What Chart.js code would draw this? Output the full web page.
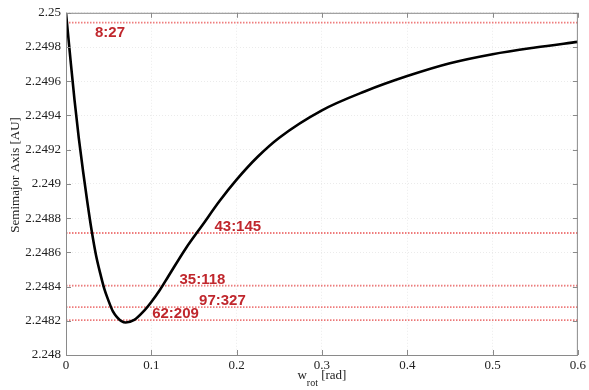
<!DOCTYPE html>
<html>
<head>
<meta charset="utf-8">
<script src="https://cdn.jsdelivr.net/npm/chart.js@4.4.1/dist/chart.umd.min.js"></script>
<style>
  html, body { margin: 0; padding: 0; background: #fff; }
  #wrap { width: 589px; height: 390px; position: relative; }
</style>
</head>
<body>
<div id="wrap"><canvas id="smaChart"></canvas></div>
<script>
// rotation angle w_rot [rad]
const wRot = [0, 0.005, 0.01, 0.015, 0.02, 0.025, 0.03, 0.035, 0.04, 0.045, 0.05, 0.055, 0.06, 0.065, 0.07,
              0.08, 0.09, 0.1, 0.11, 0.12, 0.14, 0.16, 0.18, 0.2, 0.225, 0.25, 0.3, 0.35, 0.4,
              0.45, 0.5, 0.55, 0.6];
// semimajor axis [AU]
const semiMajor = [2.25, 2.24974, 2.24949, 2.249268, 2.249074, 2.248894, 2.248729, 2.248588, 2.24848,
                   2.248385, 2.248315, 2.248255, 2.24822, 2.248198, 2.24819,
                   2.248205, 2.24825, 2.24831, 2.24838, 2.24846, 2.24862, 2.24876, 2.24890, 2.249025,
                   2.24916, 2.24927, 2.24943, 2.24954, 2.24963,
                   2.249705, 2.249758, 2.249797, 2.24983];

// resonance levels
const resNames = ['8:27', '43:145', '35:118', '97:327', '62:209'];
const resLevels = [2.249942, 2.248713, 2.248406, 2.248280, 2.248204];
// where each label sits (x in rad, and above/below the line)
const resLabelX = [0.034, 0.174, 0.133, 0.156, 0.101];
const resLabelSide = ['below', 'above', 'above', 'above', 'above'];

const xTicks = [0, 0.1, 0.2, 0.3, 0.4, 0.5, 0.6];
const yMin = 2.248, yMax = 2.25, yStep = 0.0002;

const RED = '#c0272d';
const AXIS = '#8a8a8a';
const SERIF = '"Liberation Serif", "DejaVu Serif", serif';

const datasets = [{
    label: 'a',
    data: wRot.map((x, i) => ({ x: x, y: semiMajor[i] })),
    borderColor: '#000',
    borderWidth: 2.6,
    pointRadius: 0,
    cubicInterpolationMode: 'monotone',
    order: 0
}];
resLevels.forEach((v, i) => {
    datasets.push({
        label: resNames[i],
        data: [{ x: xTicks[0], y: v }, { x: xTicks[xTicks.length - 1], y: v }],
        borderColor: 'rgba(232, 80, 80, 0.75)',
        borderWidth: 1.8,
        borderDash: [1.5, 1.5],
        pointRadius: 0,
        order: 1
    });
});

// frame, inward ticks, axis titles and resonance labels
const decor = {
    id: 'decor',
    afterDatasetsDraw(chart) {
        const { ctx, chartArea: a, scales: { x, y } } = chart;
        ctx.save();
        ctx.strokeStyle = AXIS;
        ctx.lineWidth = 1;
        ctx.strokeRect(a.left + 0.5, a.top + 0.5, a.right - a.left - 1, a.bottom - a.top);
        ctx.beginPath();
        x.ticks.forEach((t, i) => {
            const px = Math.round(x.getPixelForTick(i)) + 0.5;
            ctx.moveTo(px, a.bottom); ctx.lineTo(px, a.bottom - 5);
            ctx.moveTo(px, a.top); ctx.lineTo(px, a.top + 5);
        });
        y.ticks.forEach((t, i) => {
            const py = Math.round(y.getPixelForTick(i)) + 0.5;
            ctx.moveTo(a.left, py); ctx.lineTo(a.left + 5, py);
            ctx.moveTo(a.right, py); ctx.lineTo(a.right - 5, py);
        });
        ctx.stroke();

        // resonance labels
        ctx.fillStyle = RED;
        ctx.font = 'bold 15px "Liberation Sans", Arial, sans-serif';
        ctx.textAlign = 'left';
        resNames.forEach((n, i) => {
            const px = x.getPixelForValue(resLabelX[i]);
            const py = y.getPixelForValue(resLevels[i]);
            if (resLabelSide[i] === 'below') {
                ctx.textBaseline = 'top';
                ctx.fillText(n, px, py + 3);
            } else {
                ctx.textBaseline = 'alphabetic';
                ctx.fillText(n, px, py - 2);
            }
        });

        // x title with subscript
        ctx.fillStyle = '#222';
        ctx.textBaseline = 'alphabetic';
        const big = '13px ' + SERIF, small = '10px ' + SERIF;
        ctx.font = big; const w1 = ctx.measureText('w').width;
        const w3 = ctx.measureText(' [rad]').width;
        ctx.font = small; const w2 = ctx.measureText('rot').width;
        let sx = (a.left + a.right) / 2 - (w1 + w2 + w3) / 2;
        const by = a.bottom + 24;
        ctx.font = big; ctx.fillText('w', sx, by); sx += w1;
        ctx.font = small; ctx.fillText('rot', sx, by + 7); sx += w2;
        ctx.font = big; ctx.fillText(' [rad]', sx, by);

        // y title
        ctx.translate(16, (a.top + a.bottom) / 2 - 9);
        ctx.rotate(-Math.PI / 2);
        ctx.textAlign = 'center';
        ctx.textBaseline = 'middle';
        ctx.font = '13px ' + SERIF;
        ctx.fillText('Semimajor Axis [AU]', 0, 0);
        ctx.restore();
    }
};

new Chart(document.getElementById('smaChart').getContext('2d'), {
    type: 'line',
    data: { datasets: datasets },
    options: {
        responsive: true,
        maintainAspectRatio: false,
        animation: false,
        layout: { padding: { top: 12, right: 10, left: 0, bottom: 0 } },
        plugins: { legend: { display: false }, tooltip: { enabled: false } },
        scales: {
            x: {
                type: 'linear',
                min: xTicks[0],
                max: xTicks[xTicks.length - 1],
                afterBuildTicks: s => { s.ticks = xTicks.map(v => ({ value: v })); },
                afterFit: s => { s.height = 35; },
                grid: { color: 'rgba(0,0,0,0.08)', drawTicks: false },
                border: { display: false, dash: [1, 2] },
                ticks: {
                    padding: 3,
                    color: '#222',
                    font: { family: SERIF, size: 13 },
                    callback: v => String(parseFloat(v.toFixed(1)))
                }
            },
            y: {
                type: 'linear',
                min: yMin,
                max: yMax,
                ticks: {
                    stepSize: yStep,
                    padding: 5,
                    color: '#222',
                    font: { family: SERIF, size: 13 },
                    callback: v => String(parseFloat(v.toFixed(4)))
                },
                afterFit: s => { s.width = 66; },
                grid: { color: 'rgba(0,0,0,0.08)', drawTicks: false },
                border: { display: false, dash: [1, 2] }
            }
        }
    },
    plugins: [decor]
});
</script>
</body>
</html>
